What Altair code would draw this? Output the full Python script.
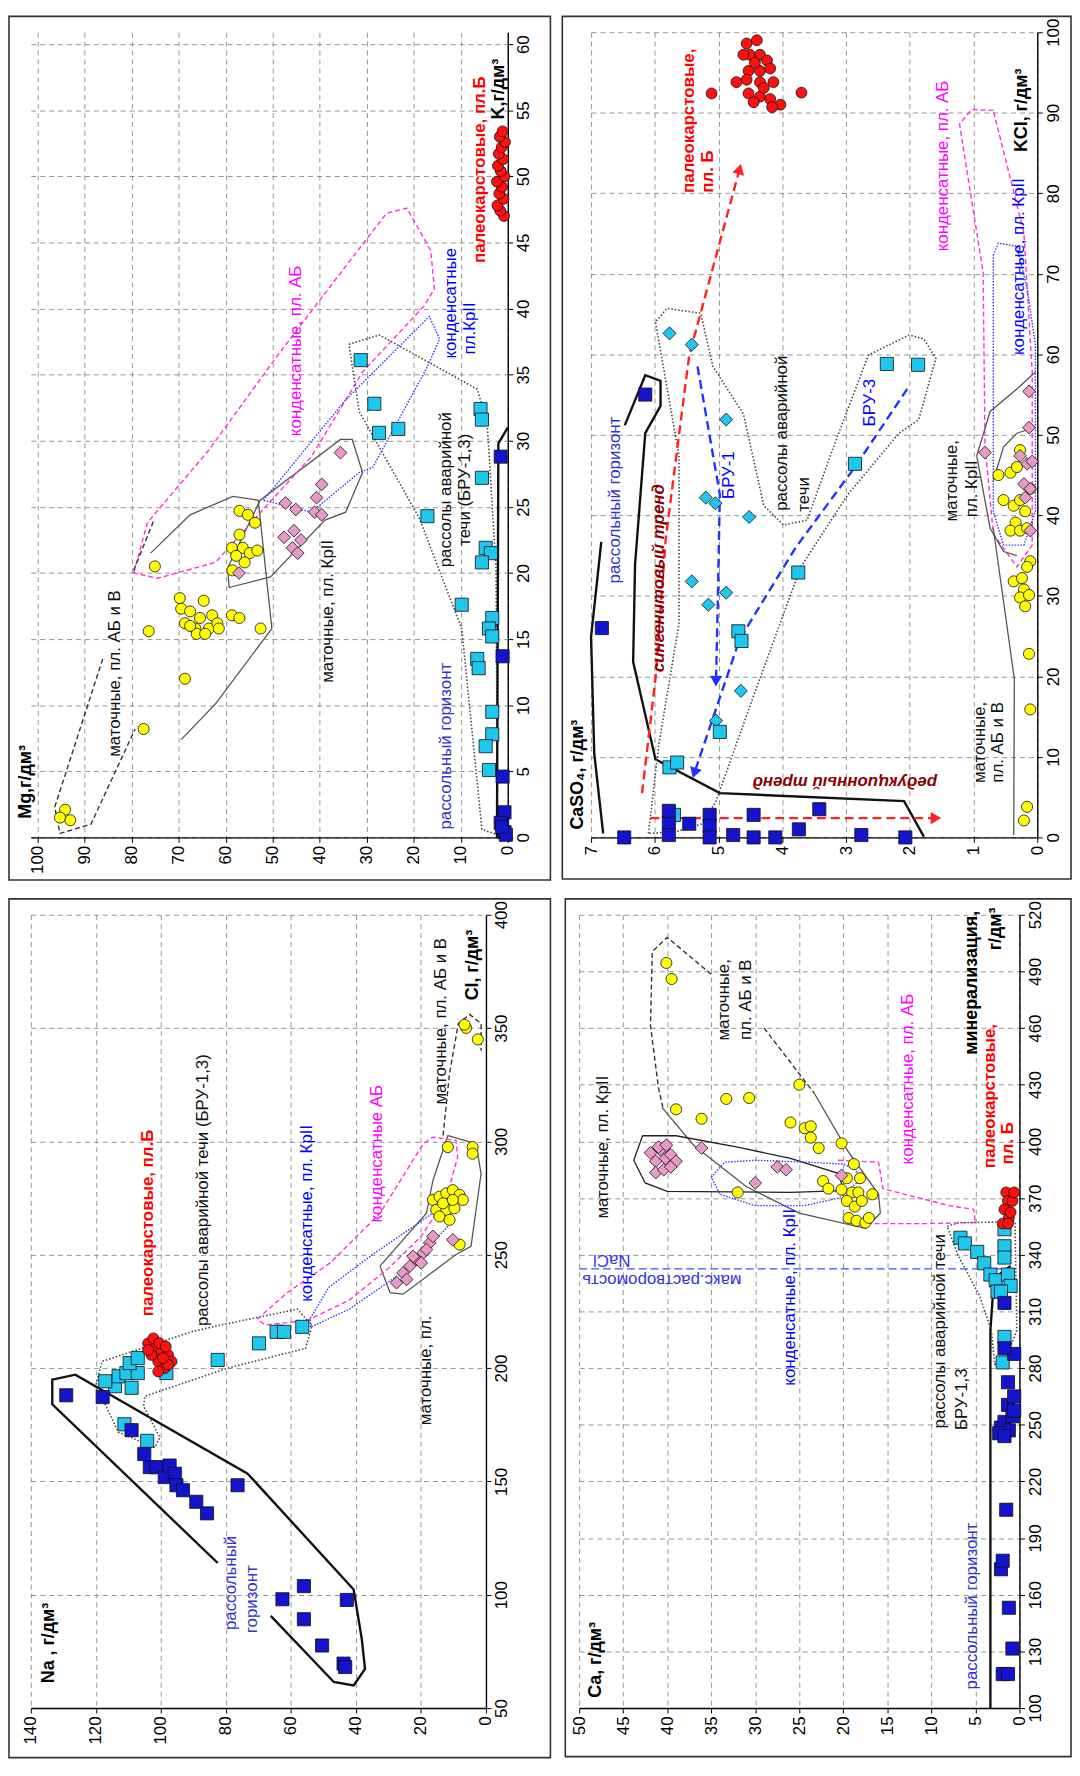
import math
import altair as alt
import pandas as pd

FONT = "Liberation Sans"

# ---------------- Panel TL: Mg (horizontal) vs K (vertical) ----------------
TL_YELLOW = [(94.2, 2.1), (93.1, 1.3), (95.3, 1.5), (77.5, 8.2), (68.7, 12.0), (76.4, 15.6), (52.6, 15.8),
             (75.1, 20.5), (69.8, 18.1), (69.5, 17.3), (68.7, 16.2), (67.6, 17.1), (66.5, 15.8), (65.5, 16.6),
             (64.7, 17.9), (63.6, 15.8), (62.9, 16.8), (61.8, 16.2), (61.5, 15.8), (58.7, 16.8), (57.1, 16.6),
             (66.2, 15.4), (64.4, 15.4), (67.6, 16.0), (57.1, 24.7), (55.3, 24.4), (53.8, 23.8), (57.1, 22.9),
             (58.7, 21.9), (56.4, 21.9), (54.9, 21.5), (53.3, 21.7), (58.6, 20.2), (56.0, 20.8), (57.8, 21.3)]
TL_PINK = [(57.2, 20.0), (47.3, 25.3), (45.1, 24.8), (47.6, 22.7), (45.5, 23.2), (44.0, 22.5), (45.8, 21.9),
           (44.7, 21.5), (39.6, 26.7), (40.7, 25.7), (41.1, 24.6), (39.6, 24.4), (35.6, 29.1)]
TL_CYAN = [(31.3, 36.1), (28.4, 32.8), (27.4, 30.6), (23.3, 30.9), (5.8, 32.4), (5.5, 31.6), (5.5, 27.2),
           (17.1, 24.3), (4.7, 21.9), (3.6, 21.5), (5.5, 20.8), (9.8, 17.6), (3.3, 16.6), (4.0, 15.8),
           (3.3, 15.2), (6.5, 13.5), (6.2, 12.8), (3.3, 9.5), (3.3, 7.8), (4.7, 6.9), (4.0, 5.1)]
TL_BLUE = [(1.1, 13.7), (1.5, 28.8), (1.1, 4.6), (0.7, 1.9), (1.5, 1.1), (0.7, 0.4), (0.4, 0.2), (1.2, 0.8)]
TL_RED = [(0.8, 47.0), (1.6, 47.4), (2.2, 47.8), (0.9, 48.3), (1.8, 48.7), (1.2, 49.2), (2.3, 49.6),
          (0.7, 50.0), (1.5, 50.4), (2.1, 50.8), (1.0, 51.3), (1.9, 51.7), (1.3, 52.2), (0.6, 52.6),
          (1.7, 53.0), (1.1, 53.4)]
TL_MG_TICKS = [0, 10, 20, 30, 40, 50, 60, 70, 80, 90, 100]
TL_K_TICKS = [0, 5, 10, 15, 20, 25, 30, 35, 40, 45, 50, 55, 60]

# ---------------- Panel TR: CaSO4 (horizontal) vs KCl (vertical) ----------------
TR_BLUE = [(6.48, 0.0), (5.78, 0.3), (5.78, 1.9), (5.78, 3.3), (5.46, 1.7), (5.14, 2.8), (5.14, 1.4),
           (5.14, 0.0), (4.77, 0.3), (4.45, 2.8), (4.45, 0.0), (4.11, 0.0), (3.74, 1.0), (3.42, 3.5),
           (2.76, 0.3), (2.07, 0.0), (6.83, 26.0), (6.15, 55.0)]
TR_CYAN_SQ = [(5.70, 2.8), (5.77, 8.7), (5.65, 9.3), (4.98, 13.1), (4.69, 25.6), (4.64, 24.4), (3.75, 32.9),
              (2.86, 46.4), (2.36, 58.8), (1.87, 58.7)]
TR_CYAN_DIA = [(5.77, 62.6), (5.42, 61.2), (4.88, 51.9), (5.20, 42.2), (5.05, 41.5), (4.52, 39.8),
               (5.42, 31.8), (5.16, 28.9), (4.88, 30.4), (5.04, 14.5), (4.65, 18.2)]
TR_RED = [(5.11, 92.4), (3.70, 92.5), (4.72, 93.8), (4.56, 98.6), (4.40, 99.0), (4.51, 97.2), (4.35, 97.2),
          (4.24, 96.5), (4.53, 95.2), (4.35, 95.2), (4.19, 95.5), (4.56, 94.1), (4.35, 93.8), (4.14, 93.8),
          (4.53, 92.4), (4.35, 92.0), (4.19, 91.7), (4.03, 91.0), (4.16, 90.7), (4.61, 97.2), (4.43, 96.2),
          (4.29, 93.1), (4.45, 91.3)]
TR_YELLOW = [(0.21, 2.1), (0.16, 3.8), (0.11, 15.9), (0.13, 22.8), (0.37, 31.8), (0.21, 30.8), (0.27, 29.8),
             (0.19, 28.7), (0.13, 30.1), (0.11, 34.3), (0.16, 33.6), (0.24, 32.2), (0.61, 45.0), (0.42, 45.3),
             (0.32, 46.0), (0.27, 48.1), (0.53, 41.9), (0.37, 41.2), (0.27, 41.9), (0.19, 40.5), (0.34, 39.1),
             (0.42, 38.1), (0.27, 38.1), (0.16, 38.4), (0.11, 43.3)]
TR_PINK = [(0.82, 47.8), (0.13, 55.4), (0.13, 50.9), (0.27, 47.4), (0.16, 46.4), (0.08, 46.7), (0.21, 43.9),
           (0.11, 43.3), (0.19, 42.2), (0.11, 38.1)]
TR_CASO4_TICKS = [0, 1, 2, 3, 4, 5, 6, 7]
TR_KCL_TICKS = [0, 10, 20, 30, 40, 50, 60, 70, 80, 90, 100]

# ---------------- Panel BL: Na (horizontal) vs Cl (vertical) ----------------
BL_BLUE = [(129.1, 188.0), (117.9, 187.2), (109.0, 172.6), (105.1, 162.1), (103.4, 156.3), (101.3, 156.3),
           (98.8, 151.9), (97.3, 157.0), (95.7, 153.4), (95.2, 148.3), (93.2, 146.1), (89.1, 141.0),
           (85.8, 135.9), (76.4, 148.3), (62.6, 98.0), (56.0, 103.8), (56.0, 89.2), (50.4, 77.6),
           (42.8, 97.7), (43.8, 69.6), (43.3, 68.1)]
BL_CYAN = [(111.2, 175.2), (104.2, 167.9), (114.1, 192.0), (117.1, 194.2), (113.0, 196.4), (109.0, 191.3),
           (110.6, 197.8), (107.1, 197.8), (109.6, 202.2), (107.1, 204.4), (98.3, 197.8), (82.5, 203.6),
           (69.8, 210.9), (64.4, 216.0), (62.1, 216.0), (56.5, 218.2)]
BL_RED = [(103.9, 210.9), (101.8, 208.7), (99.8, 207.3), (97.8, 205.8), (96.7, 202.9), (100.8, 202.9),
          (98.8, 200.0), (102.9, 205.8), (97.8, 201.5), (100.8, 198.5), (103.9, 208.0), (99.3, 204.4),
          (102.3, 213.1), (100.5, 211.0), (98.5, 209.5)]
BL_PINK = [(27.5, 237.7), (25.5, 242.0), (23.4, 245.0), (21.4, 247.9), (19.3, 250.8), (17.3, 255.2),
           (16.3, 258.1), (22.4, 249.3), (19.9, 246.4), (18.3, 252.3), (10.2, 256.6), (24.4, 239.1)]
BL_YELLOW = [(16.3, 274.2), (14.3, 275.6), (12.2, 277.1), (10.2, 278.5), (8.1, 276.4), (7.1, 274.2),
             (15.3, 269.8), (12.2, 269.8), (9.7, 270.5), (14.3, 266.9), (11.2, 265.4), (13.2, 272.7),
             (10.2, 274.2), (11.7, 297.5), (4.1, 297.5), (4.1, 294.6), (8.1, 254.5), (6.1, 350.1),
             (6.6, 351.5), (2.5, 345.0)]
BL_NA_TICKS = [0, 20, 40, 60, 80, 100, 120, 140]
BL_CL_TICKS = [50, 100, 150, 200, 250, 300, 350, 400]

# ---------------- Panel BR: Ca (horizontal) vs mineralization (vertical) ----------------
BR_BLUE = [(1.9, 118), (1.3, 118), (0.8, 131.5), (1.2, 153.1), (2.1, 173.5), (1.9, 178), (1.5, 205),
           (2.1, 248.5), (1.7, 251.5), (1.2, 247), (0.8, 254.5), (1.3, 260.5), (2.3, 245.5), (1.7, 244),
           (0.6, 265), (0.6, 287.5), (1.7, 290.5), (1.7, 314.5), (0.6, 257.5), (1.3, 272.5)]
BR_CYAN = [(1.7, 296.5), (1.9, 283), (6.7, 349), (6.2, 346), (4.8, 341.5), (4.0, 335.5), (3.3, 329.5),
           (2.7, 326.5), (2.5, 320.5), (1.7, 353.5), (1.7, 344.5), (1.7, 338.5), (1.3, 329.5), (1.0, 323.5),
           (2.1, 320.5)]
BR_RED = [(1.5, 373), (1.3, 368.5), (1.7, 364), (1.2, 359.5), (1.9, 356.5), (0.8, 368.5), (1.0, 362.5),
          (1.3, 356.5), (0.6, 373)]
BR_YELLOW = [(40.1, 494.5), (39.5, 486), (39.0, 417), (36.1, 412), (33.3, 422.5), (30.7, 423), (32.0, 373),
             (26.0, 410), (25.0, 430), (24.4, 407), (23.7, 408), (23.7, 402), (22.8, 396.5), (20.2, 399),
             (22.3, 379), (21.7, 375), (20.2, 374.5), (19.6, 380.5), (18.8, 388), (18.1, 380.5), (19.0, 373),
             (18.3, 373), (16.7, 372), (19.6, 368.5), (18.7, 365.5), (19.4, 359.5), (18.5, 358), (17.5, 357),
             (17.1, 359.5), (17.9, 368.5)]
BR_PINK = [(41.9, 394), (41.3, 389.5), (40.8, 395.5), (40.2, 391), (39.6, 393), (39.0, 389.5), (41.3, 383.5),
           (40.4, 385), (39.6, 386.5), (41.0, 397), (40.1, 398), (36.1, 396.5), (30.0, 378), (27.5, 386.5),
           (26.5, 385), (20.2, 382)]
BR_CA_TICKS = [0, 5, 10, 15, 20, 25, 30, 35, 40, 45, 50]
BR_M_TICKS = [100, 130, 160, 190, 220, 250, 280, 310, 340, 370, 400, 430, 460, 490, 520]

# ---------------- hand-drawn envelopes (data coordinates) ----------------
TL_LINES = {
    "solid_gray": [
        [(69.5, 7.4), (62.2, 10.1), (50.2, 15.8), (53.1, 25.5), (58.5, 25.8), (67.6, 24.4), (76.0, 21.5)],
        [(59.6, 20.4), (59.3, 18.9), (50.5, 19.7), (38.9, 24.0), (34.5, 24.6), (30.9, 27.6), (33.1, 30.1),
         (35.6, 30.1), (52.7, 25.5), (59.6, 20.4)]],
    "dash_mag": [[(79.6, 20.0), (76.7, 23.8), (63.6, 29.3), (49.1, 36.4), (34.5, 43.2), (25.8, 47.2), (21.5, 47.6),
                  (16.4, 44.4), (15.6, 41.5), (17.8, 40.2), (30.9, 35.2), (41.8, 28.8), (51.3, 25.1), (62.2, 20.8),
                  (74.5, 19.6), (79.6, 20.0)]],
    "dot_blue": [[(52.0, 25.5), (34.5, 33.1), (16.7, 39.4), (14.5, 37.7), (17.1, 35.6), (28.7, 28.0), (31.6, 27.6),
                  (41.8, 24.6), (52.0, 25.5)]],
    "dot_gray": [[(33.8, 37.3), (27.3, 38.0), (6.5, 33.9), (4.4, 31.4), (2.5, 20.4), (2.2, 0.2), (5.5, 0.6),
                  (9.8, 15.8), (18.9, 24.2), (31.6, 32.2), (33.8, 37.3)]],
    "solid_black": [[(2.3, 0.0), (2.0, 29.8), (0.0, 31.0)]],
    "dash_black": [[(86.2, 13.5), (96.4, 2.3), (95.3, 0.3), (88.7, 1.0), (79.3, 8.2)],
                   [(79.6, 20.2), (75.3, 24.0)]],
}
TR_LINES = {
    "solid_black": [
        [(6.81, 0.5), (6.95, 10.4), (7.0, 24.9), (6.84, 36.7)],
        [(1.78, 0.1), (2.09, 4.5), (4.98, 5.5), (5.99, 9.7), (6.34, 21.8), (6.31, 33.9), (6.15, 50.2),
         (5.91, 53.6), (5.91, 56.7), (6.15, 57.4), (6.47, 51.2)]],
    "dot_gray": [[(6.10, 0.5), (5.94, 11.4), (5.62, 26.6), (5.62, 47.4), (5.99, 64.0), (5.81, 65.7), (5.28, 65.1),
                  (5.09, 58.5), (4.61, 52.6), (4.29, 41.2), (3.98, 38.8), (3.61, 39.4), (3.23, 47.8), (2.65, 59.9),
                  (2.01, 62.4), (1.78, 61.9), (1.59, 59.5), (1.86, 51.9), (2.17, 50.2), (2.97, 42.6), (3.71, 33.6),
                  (4.45, 17.6), (5.04, 4.5), (5.25, 1.7), (5.67, 0.7), (6.10, 0.5)]],
    "dash_mag": [[(0.69, 90.3), (1.03, 90.4), (1.22, 88.6), (0.85, 70.2), (0.82, 48.8), (0.69, 37.7), (0.32, 33.6),
                  (0.08, 36.3), (0.08, 57.8), (0.21, 75.1), (0.69, 90.3)]],
    "dot_blue": [[(0.69, 72.3), (0.61, 73.8), (0.32, 73.4), (0.16, 68.2), (0.03, 61.2), (0.03, 40.5), (0.21, 36.3),
                  (0.53, 36.3), (0.69, 40.5), (0.69, 72.3)]],
    "solid_gray": [
        [(0.03, 57.8), (0.32, 55.7), (0.74, 52.9), (0.95, 47.4), (0.74, 38.4), (0.53, 35.5), (0.32, 35.0)],
        [(0.69, 44.3), (0.53, 48.5), (0.32, 50.2), (0.05, 50.9)],
        [(0.37, 0.3), (0.36, 19.7), (0.69, 38.4)]],
}
TR_ARROWS = [
    ("arrow_red", [(6.20, 5.5), (5.99, 19.7), (5.83, 37.0), (5.46, 59.9), (4.67, 83.0)]),
    ("arrow_red", [(6.07, 2.4), (1.59, 2.4)]),
    ("arrow_blue", [(5.33, 58.5), (4.98, 42.6), (5.01, 30.1), (5.04, 19.4)]),
    ("arrow_blue", [(2.04, 55.7), (2.86, 46.0), (3.79, 36.0), (4.67, 24.6), (5.38, 8.0)]),
]
BL_LINES = {
    "solid_black": [[(82.5, 114.0), (133.4, 184.0), (133.4, 194.9), (126.3, 197.1), (73.3, 153.4), (40.7, 102.3),
                     (38.2, 80.5), (37.2, 67.3), (40.7, 60.0), (46.8, 61.5), (66.2, 90.7)]],
    "dot_gray": [[(120.2, 191.3), (118.1, 202.9), (90.6, 216.0), (82.5, 218.7), (58.0, 226.0), (53.5, 218.7),
                  (55.5, 208.7), (79.4, 200.0), (104.9, 187.6), (105.3, 183.2), (100.3, 169.4), (101.8, 165.0),
                  (113.0, 171.6), (118.1, 186.9), (120.2, 191.3)]],
    "solid_gray": [[(32.6, 245.0), (29.5, 233.3), (25.5, 232.6), (9.2, 250.1), (4.6, 253.7), (1.5, 285.8),
                    (3.1, 299.0), (11.7, 302.6), (16.3, 282.9), (18.3, 268.3), (32.6, 245.0)]],
    "dash_black": [[(13.2, 302.6), (11.2, 330.0), (8.5, 352.0), (5.0, 356.0), (1.5, 352.0), (1.5, 340.0)]],
    "dash_mag": [[(70.3, 221.6), (61.1, 233.3), (47.9, 246.4), (32.6, 268.3), (19.3, 299.0), (16.3, 301.9),
                  (9.2, 300.4), (8.7, 293.1), (12.2, 275.0), (20.0, 258.0), (30.0, 244.0), (42.0, 230.0),
                  (55.0, 221.0), (68.0, 219.0), (70.3, 221.6)]],
    "dot_blue": [[(54.0, 222.0), (48.4, 235.5), (35.0, 250.0), (19.3, 265.4), (8.0, 277.0), (12.0, 262.0),
                  (25.0, 243.0), (42.0, 226.0), (54.0, 218.0), (54.0, 222.0)]],
}
BR_LINES = {
    "solid_black": [[(3.3, 100.0), (3.3, 300.0), (3.0, 320.0), (2.2, 330.0), (1.0, 334.0)]],
    "dot_gray": [[(8.2, 355.0), (6.9, 357.0), (0.5, 357.5), (0.3, 300.0), (1.5, 285.0), (2.8, 282.0), (3.2, 300.0),
                  (4.5, 318.0), (7.0, 340.0), (8.2, 355.0)]],
    "dash_black": [[(35.0, 488.5), (40.0, 508.0), (41.7, 500.5), (41.9, 461.5), (41.0, 428.5), (40.5, 418.0)],
                   [(29.0, 460.0), (23.3, 425.5)]],
    "solid_gray": [[(40.6, 418.0), (37.0, 398.0), (31.0, 376.0), (25.0, 362.0), (17.5, 354.0), (15.8, 362.0),
                    (16.0, 372.0), (19.5, 395.0), (23.3, 425.5)]],
    "solid_dark": [[(42.8, 403.0), (43.8, 390.0), (42.5, 378.0), (40.0, 373.5), (26.0, 373.0), (20.0, 374.0),
                    (20.5, 383.0), (26.0, 391.0), (32.0, 397.0), (39.0, 403.0), (42.8, 403.0)]],
    "dot_blue": [[(35.0, 381.0), (33.5, 389.0), (30.0, 390.0), (24.0, 389.0), (20.0, 388.0), (18.5, 385.0),
                  (18.5, 378.0), (20.5, 370.0), (24.5, 366.0), (30.0, 366.0), (34.0, 372.0), (35.0, 381.0)]],
    "dash_mag": [[(20.6, 390.0), (16.0, 389.0), (15.5, 375.0), (8.0, 366.0), (5.2, 364.0), (5.0, 357.0),
                  (10.6, 356.5), (19.4, 356.5)]],
    "nacl_blue": [[(50.0, 332.5), (0.0, 332.5)]],
}

# ---------------- annotations: (text, x, y, style) ----------------
TL_TEXTS = [
    ("Mg,г/дм³", 102.6, 4.2, "title"), ("маточные, пл. АБ и В", 83.6, 12.4, "black"),
    ("маточные, пл. КрII", 38.2, 17.1, "black"), ("конденсатные, пл. АБ", 45.1, 36.8, "mag"),
    ("рассольный горизонт", 13.1, 6.9, "navy"), ("рассолы аварийной", 13.1, 26.3, "black"),
    ("течи (БРУ-1,3)", 9.1, 26.3, "black"), ("конденсатные", 12.0, 40.4, "blue"), ("пл.КрII", 8.0, 38.5, "blue"),
    ("палеокарстовые, пл.Б", 5.8, 50.5, "red"), ("K,г/дм³", 1.9, 56.6, "title"),
]
TR_TEXTS = [
    ("CaSO₄, г/дм³", 7.21, 7.8, "title"), ("рассольный горизонт", 6.63, 41.9, "navy"),
    ("сингенитовый тренд", 5.94, 32.2, "trend"), ("редукционный тренд", 3.02, 6.9, "trend180"),
    ("палеокарстовые,", 5.46, 89.0, "red"), ("пл. Б", 5.17, 82.7, "red"),
    ("рассолы аварийной", 4.00, 50.2, "black"), ("течи", 3.66, 42.6, "black"),
    ("БРУ-1", 4.83, 45.0, "blue"), ("БРУ-3", 2.62, 54.0, "blue"),
    ("маточные,", 1.33, 44.3, "black"), ("пл. КрII", 1.03, 43.3, "black"),
    ("маточные,", 0.90, 11.8, "black"), ("пл. АБ и В", 0.61, 11.8, "black"),
    ("конденсатные, пл. АБ", 1.48, 83.4, "mag"), ("конденсатные, пл. КрII", 0.29, 70.9, "blue"),
    ("KCl, г/дм³", 0.24, 90.3, "title"),
]
BL_TEXTS = [
    ("Na , г/дм³", 134.4, 78.7, "title"), ("рассольный", 78.4, 105.2, "navy"), ("горизонт", 71.8, 98.0, "navy"),
    ("маточные, пл.", 18.3, 199.0, "black"), ("палеокарстовые, пл.Б", 103.9, 264.0, "red"),
    ("рассолы аварийной течи (БРУ-1,3)", 87.1, 278.5, "black"), ("конденсатные, пл. КрII", 55.0, 268.3, "blue"),
    ("конденсатные АБ", 33.6, 294.6, "mag"), ("маточные, пл. АБ и В", 13.7, 353.0, "black"),
    ("Cl, г/дм³", 4.1, 377.8, "title"),
]
BR_TEXTS = [
    ("Ca, г/дм³", 48.1, 125.5, "title"), ("рассольный горизонт", 5.4, 154.0, "navy"),
    ("рассолы аварийной течи", 9.0, 299.5, "black"), ("БРУ-1,3", 6.5, 263.5, "black"),
    ("конденсатные, пл. КрII", 26.0, 317.5, "blue"), ("маточные, пл. КрII", 47.3, 397.0, "black"),
    ("маточные,", 33.5, 475.0, "black"), ("пл. АБ и В", 31.0, 475.0, "black"),
    ("конденсатные, пл. АБ", 12.7, 433.0, "mag"), ("палеокарстовые,", 3.3, 424.0, "red"), ("пл. Б", 1.3, 399.0, "red"),
    ("минерализация,", 5.4, 484.0, "title"), ("г/дм³", 2.7, 512.5, "title"),
    ("макс.растворомость", 40.6, 326.5, "nacl180"), ("NaCl", 46.3, 337.0, "nacl180"),
]

# ---------------- styles ----------------
LINE_STYLES = {
    "solid_black": dict(color="#111111", strokeWidth=2.4),
    "solid_dark": dict(color="#222222", strokeWidth=1.3),
    "solid_gray": dict(color="#555555", strokeWidth=1.3),
    "dot_gray": dict(color="#444444", strokeWidth=1.6, strokeDash=[1.5, 2]),
    "dash_black": dict(color="#333333", strokeWidth=1.4, strokeDash=[5, 3]),
    "dash_mag": dict(color="#FF33CC", strokeWidth=1.4, strokeDash=[5, 3]),
    "dot_blue": dict(color="#3333FF", strokeWidth=1.4, strokeDash=[1.5, 1.5]),
    "arrow_red": dict(color="#FF2222", strokeWidth=2.4, strokeDash=[9, 5]),
    "arrow_blue": dict(color="#2233FF", strokeWidth=2.4, strokeDash=[9, 5]),
    "nacl_blue": dict(color="#3355FF", strokeWidth=1.4, strokeDash=[8, 4]),
}
MARKERS = {
    "blue": dict(shape="square", fill="#1414CC", size=175),
    "cyan": dict(shape="square", fill="#1FC6EE", size=175),
    "cyan_d": dict(shape="diamond", fill="#1FC6EE", size=175),
    "yellow": dict(shape="circle", fill="#FFFF00", size=125),
    "pink": dict(shape="diamond", fill="#E89AC6", size=165),
    "red": dict(shape="circle", fill="#FF1010", size=120),
}
TEXT_STYLES = {
    "title": dict(color="#000000", fontSize=18, fontWeight="bold"),
    "black": dict(color="#111111", fontSize=17),
    "navy": dict(color="#3333CC", fontSize=17),
    "blue": dict(color="#0000FF", fontSize=17),
    "mag": dict(color="#FF00FF", fontSize=17),
    "red": dict(color="#FF0000", fontSize=17, fontWeight="bold"),
    "trend": dict(color="#8B0000", fontSize=17, fontWeight="bold", fontStyle="italic"),
    "trend180": dict(color="#8B0000", fontSize=17, fontWeight="bold", fontStyle="italic", angle=180),
    "nacl180": dict(color="#3333DD", fontSize=17, angle=180),
}


def df_pts(pairs):
    return pd.DataFrame({"x": [p[0] for p in pairs], "y": [p[1] for p in pairs]})


def df_paths(paths):
    rows = []
    for i, path in enumerate(paths):
        for j, (x, y) in enumerate(path):
            rows.append({"x": x, "y": y, "pid": i, "ord": j})
    return pd.DataFrame(rows)


def panel(xdom, ydom, xticks, yticks, W, H, frame, series, lines, arrows, texts):
    xs = alt.Scale(domain=xdom, reverse=True, nice=False, zero=False)
    ys = alt.Scale(domain=ydom, nice=False, zero=False)
    common = dict(title=None, grid=True, gridDash=[5, 4], gridColor="#7a7a7a", gridWidth=0.8,
                  domainColor="#000000", domainWidth=1.4, tickColor="#000000", tickSize=5,
                  labelFont=FONT, labelFontSize=17, labelColor="#000000", labelPadding=3,
                  labelFlush=False, labelOverlap=False, labelAngle=270)
    xaxis = alt.Axis(orient="bottom", values=xticks, labelAlign="right", labelBaseline="middle", **common)
    yaxis = alt.Axis(orient="right", values=yticks, labelAlign="center", labelBaseline="top", **common)
    X = alt.X("x:Q", scale=xs, axis=xaxis)
    Y = alt.Y("y:Q", scale=ys, axis=yaxis)
    kx = W / (xdom[1] - xdom[0])
    ky = H / (ydom[1] - ydom[0])

    layers = []
    for style, paths in lines.items():
        layers.append(alt.Chart(df_paths(paths)).mark_line(**LINE_STYLES[style]).encode(
            x=X, y=Y, order="ord:Q", detail="pid:N"))
    for style, path in arrows:
        st = LINE_STYLES[style]
        layers.append(alt.Chart(df_paths([path])).mark_line(**st).encode(
            x=X, y=Y, order="ord:Q", detail="pid:N"))
        (x0, y0), (x1, y1) = path[-2], path[-1]
        sdx = -(x1 - x0) * kx
        sdy = -(y1 - y0) * ky
        ang = math.degrees(math.atan2(sdx, -sdy)) % 360
        layers.append(alt.Chart(df_pts([path[-1]])).mark_point(
            shape="triangle-up", filled=True, color=st["color"], size=150, angle=round(ang, 1), opacity=1
        ).encode(x=X, y=Y))
    for key, pairs in series:
        m = MARKERS[key]
        layers.append(alt.Chart(df_pts(pairs)).mark_point(
            shape=m["shape"], filled=True, fill=m["fill"], stroke="#111111", strokeWidth=0.8,
            size=m["size"], opacity=1).encode(x=X, y=Y))
    for txt, x, y, st in texts:
        s = dict(TEXT_STYLES[st])
        ang = s.pop("angle", 270)
        layers.append(alt.Chart(df_pts([(x, y)])).mark_text(
            text=txt, angle=ang, font=FONT, align="center", baseline="middle", **s).encode(x=X, y=Y))
    L, R, T, B = frame
    layers.append(alt.Chart(pd.DataFrame({"a": [0]})).mark_rect(
        filled=False, stroke="#333333", strokeWidth=1.6).encode(
        x=alt.value(-L), x2=alt.value(W + R), y=alt.value(-T), y2=alt.value(H + B)))
    return alt.layer(*layers).properties(width=W, height=H)


tl = panel([0, 101.5], [0, 60.9], TL_MG_TICKS, TL_K_TICKS, 481, 812, (22, 43, 16, 43),
           [("yellow", TL_YELLOW), ("pink", TL_PINK), ("cyan", TL_CYAN), ("blue", TL_BLUE), ("red", TL_RED)],
           TL_LINES, [], TL_TEXTS)
tr = panel([0, 7], [0, 100], TR_CASO4_TICKS, TR_KCL_TICKS, 450, 812, (29, 34, 16, 42),
           [("yellow", TR_YELLOW), ("pink", TR_PINK), ("cyan_d", TR_CYAN_DIA), ("cyan", TR_CYAN_SQ),
            ("blue", TR_BLUE), ("red", TR_RED)],
           TR_LINES, TR_ARROWS, TR_TEXTS)
bl = panel([0, 140], [50, 400], BL_NA_TICKS, BL_CL_TICKS, 459, 800, (22, 65, 16, 50),
           [("yellow", BL_YELLOW), ("pink", BL_PINK), ("cyan", BL_CYAN), ("blue", BL_BLUE), ("red", BL_RED)],
           BL_LINES, [], BL_TEXTS)
br = panel([0, 50], [100, 520], BR_CA_TICKS, BR_M_TICKS, 444, 800, (14, 52, 16, 49),
           [("yellow", BR_YELLOW), ("pink", BR_PINK), ("cyan", BR_CYAN), ("blue", BR_BLUE), ("red", BR_RED)],
           BR_LINES, [], BR_TEXTS)

row1 = alt.hconcat(tl, tr, spacing=10)
row2 = alt.hconcat(bl, br, spacing=13)
chart = alt.vconcat(row1, row2, spacing=17).properties(
    padding=0, background="#ffffff"
).configure_view(strokeWidth=0)

chart.save("out.html", embed_options={"renderer": "svg", "actions": False})
